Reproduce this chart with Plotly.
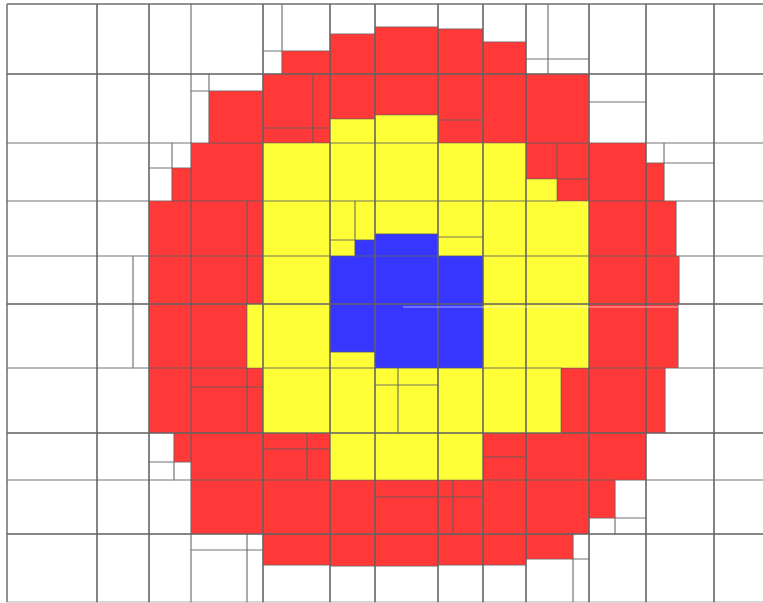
import plotly.graph_objects as go

# Cell rectangles (x0, x1, y0, y1) in chart units, grouped by value class
WHITE_CELLS = [
    (7, 97, 4, 74), (97, 149, 4, 74), (149, 191, 4, 74), (191, 263, 4, 74),
    (263, 282, 4, 51), (263, 282, 51, 74), (282, 330, 4, 51), (330, 375, 4, 34),
    (375, 438, 4, 27), (438, 483, 4, 29), (483, 526, 4, 42), (526, 548, 4, 59),
    (548, 589, 4, 59), (526, 548, 59, 74), (548, 589, 59, 74), (589, 646, 4, 74),
    (646, 714, 4, 74), (714, 770, 4, 74),
    (7, 97, 74, 143), (97, 149, 74, 143), (149, 191, 74, 143), (191, 209, 74, 91),
    (209, 263, 74, 91), (191, 209, 91, 143), (589, 646, 74, 102), (589, 646, 102, 143),
    (646, 714, 74, 143), (714, 770, 74, 143),
    (7, 97, 143, 201), (97, 149, 143, 201), (149, 172, 143, 168), (172, 191, 143, 168),
    (149, 172, 168, 201), (646, 664, 143, 163), (664, 714, 143, 163), (664, 714, 163, 201),
    (714, 770, 143, 201),
    (7, 97, 201, 256), (97, 149, 201, 256), (676, 714, 201, 256), (714, 770, 201, 256),
    (7, 97, 256, 304), (97, 133, 256, 304), (133, 149, 256, 304), (679, 714, 256, 304),
    (714, 770, 256, 304),
    (7, 97, 304, 368), (97, 133, 304, 368), (133, 149, 304, 368), (678, 714, 304, 368),
    (714, 770, 304, 368),
    (7, 97, 368, 433), (97, 149, 368, 433), (665, 714, 368, 433), (714, 770, 368, 433),
    (7, 97, 433, 480), (97, 149, 433, 480), (149, 174, 433, 462), (149, 174, 462, 480),
    (174, 191, 462, 480), (646, 714, 433, 480), (714, 770, 433, 480),
    (7, 97, 480, 534), (97, 149, 480, 534), (149, 191, 480, 534), (615, 646, 480, 518),
    (589, 615, 518, 534), (615, 646, 518, 534), (646, 714, 480, 534), (714, 770, 480, 534),
    (7, 97, 534, 602), (97, 149, 534, 602), (149, 191, 534, 602), (191, 247, 534, 550),
    (247, 263, 534, 550), (191, 247, 550, 602), (247, 263, 550, 602), (263, 330, 565, 602),
    (330, 375, 566, 602), (375, 438, 566, 602), (438, 483, 565, 602), (483, 526, 565, 602),
    (573, 589, 534, 559), (526, 573, 559, 602), (573, 589, 559, 602), (589, 646, 534, 602),
    (646, 714, 534, 602), (714, 770, 534, 602),
]

RED_CELLS = [
    (282, 330, 51, 74), (330, 375, 34, 74), (375, 438, 27, 74), (438, 483, 29, 74),
    (483, 526, 42, 74),
    (209, 263, 91, 143), (263, 313, 74, 128), (313, 330, 74, 128), (263, 313, 128, 143),
    (313, 330, 128, 143), (330, 375, 74, 119), (375, 438, 74, 115), (438, 483, 74, 120),
    (438, 483, 120, 143), (483, 526, 74, 143), (526, 589, 74, 143),
    (172, 191, 168, 201), (191, 263, 143, 201), (526, 557, 143, 179), (557, 589, 143, 179),
    (557, 589, 179, 201), (589, 646, 143, 201), (646, 664, 163, 201),
    (149, 191, 201, 256), (191, 247, 201, 256), (247, 263, 201, 256), (589, 646, 201, 256),
    (646, 676, 201, 256),
    (149, 191, 256, 304), (191, 247, 256, 304), (247, 263, 256, 304), (589, 646, 256, 304),
    (646, 679, 256, 304),
    (149, 191, 304, 368), (191, 247, 304, 368), (589, 646, 304, 368), (646, 678, 304, 368),
    (149, 191, 368, 433), (191, 247, 368, 387), (247, 263, 368, 387), (191, 247, 387, 433),
    (247, 263, 387, 433), (561, 589, 368, 433), (589, 646, 368, 433), (646, 665, 368, 433),
    (174, 191, 433, 462), (191, 263, 433, 480), (263, 307, 433, 449), (307, 330, 433, 449),
    (263, 307, 449, 480), (307, 330, 449, 480), (483, 526, 433, 457), (483, 526, 457, 480),
    (526, 589, 433, 480), (589, 646, 433, 480),
    (191, 263, 480, 534), (263, 330, 480, 534), (330, 375, 480, 534), (375, 438, 480, 497),
    (375, 438, 497, 534), (438, 453, 480, 497), (453, 483, 480, 497), (438, 453, 497, 534),
    (453, 483, 497, 534), (483, 526, 480, 534), (526, 589, 480, 534), (589, 615, 480, 518),
    (263, 330, 534, 565), (330, 375, 534, 566), (375, 438, 534, 566), (438, 483, 534, 565),
    (483, 526, 534, 565), (526, 573, 534, 559),
]

YELLOW_CELLS = [
    (330, 375, 119, 143), (375, 438, 115, 143),
    (263, 330, 143, 201), (330, 375, 143, 201), (375, 438, 143, 201), (438, 483, 143, 201),
    (483, 526, 143, 201), (526, 557, 179, 201),
    (263, 330, 201, 256), (330, 355, 201, 240), (355, 375, 201, 240), (330, 355, 240, 256),
    (375, 438, 201, 234), (438, 483, 201, 237), (438, 483, 237, 256), (483, 526, 201, 256),
    (526, 589, 201, 256),
    (263, 330, 256, 304), (483, 526, 256, 304), (526, 589, 256, 304),
    (247, 263, 304, 368), (263, 330, 304, 368), (330, 375, 352, 368), (483, 526, 304, 368),
    (526, 589, 304, 368),
    (263, 330, 368, 433), (330, 375, 368, 433), (375, 398, 368, 385), (398, 438, 368, 385),
    (375, 398, 385, 433), (398, 438, 385, 433), (438, 483, 368, 433), (483, 526, 368, 433),
    (526, 561, 368, 433),
    (330, 375, 433, 480), (375, 438, 433, 480), (438, 483, 433, 480),
]

BLUE_CELLS = [
    (355, 375, 240, 256), (375, 438, 234, 256), (330, 375, 256, 304), (375, 438, 256, 304),
    (438, 483, 256, 304), (330, 375, 304, 352), (375, 438, 304, 368), (438, 483, 304, 368),
]

# Main grid lines
GRID_X = [7, 97, 149, 263, 330, 375, 438, 483, 526, 589, 646, 714]
GRID_Y = [4, 74, 304, 433, 534]
GRID_X_SPAN = (7, 770)
GRID_Y_SPAN = (4, 602)

# Light artefact line across the middle
GLARE_X = [403, 678]
GLARE_Y = [307, 307]

CLASS_COLORS = {
    "white": "#ffffff",
    "red": "#ff3838",
    "yellow": "#ffff38",
    "blue": "#3636ff",
}


def rect_path(cells):
    xs, ys = [], []
    for x0, x1, y0, y1 in cells:
        xs += [x0, x1, x1, x0, x0, None]
        ys += [y0, y0, y1, y1, y0, None]
    return xs, ys


fig = go.Figure()
for name, cells in [("white", WHITE_CELLS), ("red", RED_CELLS),
                    ("yellow", YELLOW_CELLS), ("blue", BLUE_CELLS)]:
    xs, ys = rect_path(cells)
    fig.add_trace(go.Scatter(
        x=xs, y=ys, mode="lines", fill="toself",
        fillcolor=CLASS_COLORS[name],
        line=dict(color="rgba(95,95,95,0.5)", width=1.2),
        hoverinfo="skip", showlegend=False,
    ))

gx, gy = [], []
for x in GRID_X:
    gx += [x, x, None]
    gy += [GRID_Y_SPAN[0], GRID_Y_SPAN[1], None]
for y in GRID_Y:
    gx += [GRID_X_SPAN[0], GRID_X_SPAN[1], None]
    gy += [y, y, None]
fig.add_trace(go.Scatter(
    x=gx, y=gy, mode="lines",
    line=dict(color="rgba(100,100,100,0.8)", width=1.4),
    hoverinfo="skip", showlegend=False,
))

fig.add_trace(go.Scatter(
    x=GLARE_X, y=GLARE_Y, mode="lines",
    line=dict(color="rgba(255,255,255,0.6)", width=1.2),
    hoverinfo="skip", showlegend=False,
))

fig.update_layout(
    width=763, height=603,
    margin=dict(l=0, r=0, t=0, b=0),
    paper_bgcolor="white", plot_bgcolor="white",
    xaxis=dict(range=[0, 763], visible=False, fixedrange=True),
    yaxis=dict(range=[603, 0], visible=False, fixedrange=True),
    hovermode=False,
)

fig.write_html(
    "out.html",
    config={"displayModeBar": False},
    post_script="document.body.style.margin='0';document.body.style.overflow='hidden';",
)
